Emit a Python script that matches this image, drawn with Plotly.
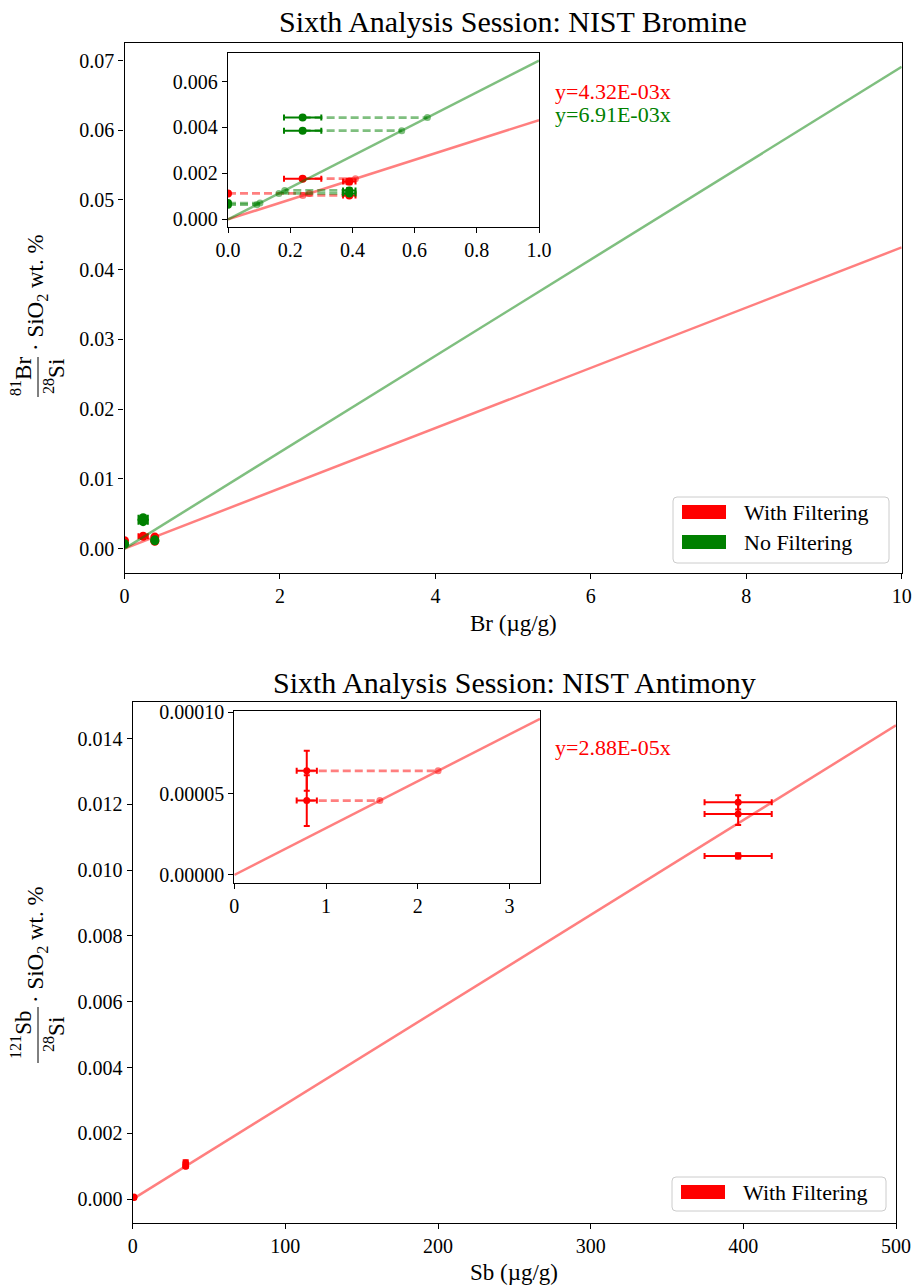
import plotly.graph_objects as go

W, H = 912, 1287
FONT = "Liberation Serif"
RED = "#ff0000"
GREEN = "#008000"
RED_A = "rgba(255,0,0,0.5)"
GREEN_A = "rgba(0,128,0,0.5)"

# ---------------- Bromine data ----------------
br_slope_filt = 4.32e-3
br_slope_nofilt = 6.91e-3
br_filt_x = [0.0, 0.24, 0.39, 0.39]
br_filt_y = [0.00113, 0.00177, 0.00165, 0.00104]
br_filt_xerr = [0.0, 0.06, 0.02, 0.02]
br_filt_yerr = [0.00004, 0.00005, 0.00012, 0.00005]
br_nofilt_x = [0.0, 0.0, 0.24, 0.24, 0.39, 0.39]
br_nofilt_y = [0.00071, 0.00064, 0.00443, 0.00386, 0.00126, 0.00113]
br_nofilt_xerr = [0.0, 0.0, 0.06, 0.06, 0.02, 0.02]
br_nofilt_yerr = [0.00003, 0.00003, 0.00003, 0.00003, 0.0001, 0.00005]
br_main_xrange = [0, 10]
br_inset_xrange = [0, 1]
br_main_yticks = [0.00, 0.01, 0.02, 0.03, 0.04, 0.05, 0.06, 0.07]
br_main_xticks = [0, 2, 4, 6, 8, 10]
br_inset_yticks = [0.000, 0.002, 0.004, 0.006]
br_inset_xticks = [0.0, 0.2, 0.4, 0.6, 0.8, 1.0]

# ---------------- Antimony data ----------------
sb_slope = 2.88e-5
sb_x = [0.79, 0.79, 34.7, 34.7, 396.6, 396.6, 396.6]
sb_y = [6.40e-5, 4.57e-5, 0.00110, 0.00100, 0.01206, 0.01171, 0.01043]
sb_xerr = [0.11, 0.11, 0.5, 0.5, 22.0, 22.0, 22.0]
sb_yerr = [1.23e-5, 1.56e-5, 0.00008, 0.00005, 0.00022, 0.00034, 0.00008]
sb_main_xrange = [0, 500]
sb_inset_xrange = [0, 3.333]
sb_main_yticks = [0.000, 0.002, 0.004, 0.006, 0.008, 0.010, 0.012, 0.014]
sb_main_xticks = [0, 100, 200, 300, 400, 500]
sb_inset_yticks = [0.0, 0.00005, 0.0001]
sb_inset_xticks = [0, 1, 2, 3]


def px(x):
    return x / W


def py(y):
    return 1 - y / H


fig = go.Figure()


def add_series(xs, ys, xerr, yerr, slope, xr, color, color_a, xa, ya, inset, msize):
    # fit line
    fig.add_trace(go.Scatter(x=xr, y=[slope * v for v in xr], mode="lines",
                             line=dict(color=color_a, width=2.5), xaxis=xa, yaxis=ya,
                             showlegend=False, hoverinfo="skip"))
    if inset:
        dx, dy, lx = [], [], []
        for x0, y0 in zip(xs, ys):
            x1 = y0 / slope
            dx += [x0, x1, None]
            dy += [y0, y0, None]
            lx.append(x1)
        fig.add_trace(go.Scatter(x=dx, y=dy, mode="lines",
                                 line=dict(color=color_a, width=2.8, dash="8px,4px"),
                                 xaxis=xa, yaxis=ya, showlegend=False, hoverinfo="skip"))
        fig.add_trace(go.Scatter(x=lx, y=ys, mode="markers",
                                 marker=dict(color=color_a, size=7), xaxis=xa, yaxis=ya,
                                 showlegend=False, hoverinfo="skip"))
    fig.add_trace(go.Scatter(x=xs, y=ys, mode="markers",
                             marker=dict(color=color, size=msize),
                             error_x=dict(type="data", array=xerr, color=color, thickness=2, width=3),
                             error_y=dict(type="data", array=yerr, color=color, thickness=2, width=3),
                             xaxis=xa, yaxis=ya, showlegend=False))


# Bromine main
add_series(br_filt_x, br_filt_y, br_filt_xerr, br_filt_yerr, br_slope_filt, br_main_xrange,
           RED, RED_A, "x", "y", False, 9)
add_series(br_nofilt_x, br_nofilt_y, br_nofilt_xerr, br_nofilt_yerr, br_slope_nofilt, br_main_xrange,
           GREEN, GREEN_A, "x", "y", False, 9)
# Bromine inset
add_series(br_filt_x, br_filt_y, br_filt_xerr, br_filt_yerr, br_slope_filt, br_inset_xrange,
           RED, RED_A, "x2", "y2", True, 8)
add_series(br_nofilt_x, br_nofilt_y, br_nofilt_xerr, br_nofilt_yerr, br_slope_nofilt, br_inset_xrange,
           GREEN, GREEN_A, "x2", "y2", True, 8)
# Antimony main
add_series(sb_x, sb_y, sb_xerr, sb_yerr, sb_slope, sb_main_xrange, RED, RED_A, "x3", "y3", False, 7)
# Antimony inset
add_series(sb_x, sb_y, sb_xerr, sb_yerr, sb_slope, sb_inset_xrange, RED, RED_A, "x4", "y4", True, 7)

TICKF = dict(family=FONT, size=20, color="black")


def ax(domain, rng, tickvals, fmt, anchor):
    return dict(domain=domain, range=rng, tickvals=tickvals,
                ticktext=[format(v, fmt) for v in tickvals],
                showline=True, linecolor="black", linewidth=1.3, mirror=True,
                ticks="outside", ticklen=5, tickwidth=1.3, tickcolor="black",
                showgrid=False, zeroline=False, tickfont=TICKF, anchor=anchor,
                automargin=False)


br_ymax = br_slope_nofilt * br_main_xrange[1]
br_iymax = br_slope_nofilt * br_inset_xrange[1]
sb_ymax = sb_slope * sb_main_xrange[1]
sb_iymax = sb_slope * sb_inset_xrange[1]

fig.update_layout(
    width=W, height=H, margin=dict(l=0, r=0, t=0, b=0, autoexpand=False),
    paper_bgcolor="white", plot_bgcolor="white", showlegend=False,
    font=dict(family=FONT, color="black"),
    xaxis=ax([px(124.5), px(901.7)], br_main_xrange, br_main_xticks, "d", "y"),
    yaxis=ax([py(572.7), py(42.7)], [-0.05 * br_ymax, 1.05 * br_ymax], br_main_yticks, ".2f", "x"),
    xaxis2=ax([px(228), px(539)], br_inset_xrange, br_inset_xticks, ".1f", "y2"),
    yaxis2=ax([py(227.3), py(52.7)], [-0.05 * br_iymax, 1.05 * br_iymax], br_inset_yticks, ".3f", "x2"),
    xaxis3=ax([px(132.7), px(896)], sb_main_xrange, sb_main_xticks, "d", "y3"),
    yaxis3=ax([py(1222.8), py(701.7)], [-0.05 * sb_ymax, 1.05 * sb_ymax], sb_main_yticks, ".3f", "x3"),
    xaxis4=ax([px(234.3), px(540)], sb_inset_xrange, sb_inset_xticks, "d", "y4"),
    yaxis4=ax([py(882.7), py(711)], [-0.05 * sb_iymax, 1.05 * sb_iymax], sb_inset_yticks, ".5f", "x4"),
)

annos = []
shapes = []


def text(x, y, s, size, color="black", xanchor="center", angle=0):
    annos.append(dict(x=px(x), y=py(y), xref="paper", yref="paper", text=s, showarrow=False,
                      xanchor=xanchor, yanchor="middle", textangle=angle,
                      font=dict(family=FONT, size=size, color=color)))


# titles
text(513, 21, "Sixth Analysis Session: NIST Bromine", 30)
text(514, 682, "Sixth Analysis Session: NIST Antimony", 30)
# x labels
text(513, 623, "Br (µg/g)", 23)
text(514, 1272, "Sb (µg/g)", 23)

# y labels (fraction)
def ylabel(iso, el, yc_frac, yc_rest, half):
    text(21, yc_frac, f"<sup>{iso}</sup>{el}", 23, angle=-90)
    text(54, yc_frac, "<sup>28</sup>Si", 23, angle=-90)
    shapes.append(dict(type="line", xref="paper", yref="paper", x0=px(38), x1=px(38),
                       y0=py(yc_frac - half), y1=py(yc_frac + half),
                       line=dict(color="black", width=1)))
    text(37, yc_rest, "· SiO<sub>2</sub> wt. %", 23, angle=-90)


ylabel(81, "Br", 377, 293, 20)
ylabel(121, "Sb", 1035, 945, 28)

# equations
text(553, 91, f"y={br_slope_filt:.2E}x", 22, RED, "left")
text(553, 114, f"y={br_slope_nofilt:.2E}x", 22, GREEN, "left")
text(553, 747, f"y={sb_slope:.2E}x", 22, RED, "left")


def rrect(x0, y0, x1, y1, r=4):
    X0, X1 = px(x0), px(x1)
    return (f"M {px(x0 + r)} {py(y0)} L {px(x1 - r)} {py(y0)} Q {X1} {py(y0)} {X1} {py(y0 + r)} "
            f"L {X1} {py(y1 - r)} Q {X1} {py(y1)} {px(x1 - r)} {py(y1)} "
            f"L {px(x0 + r)} {py(y1)} Q {X0} {py(y1)} {X0} {py(y1 - r)} "
            f"L {X0} {py(y0 + r)} Q {X0} {py(y0)} {px(x0 + r)} {py(y0)} Z")


def legend(x0, y0, x1, y1, items):
    shapes.append(dict(type="path", xref="paper", yref="paper", path=rrect(x0, y0, x1, y1),
                       fillcolor="rgba(255,255,255,0.8)", line=dict(color="#cccccc", width=1)))
    for i, (lab, col) in enumerate(items):
        yc = y0 + 15 + i * 30
        shapes.append(dict(type="rect", xref="paper", yref="paper", x0=px(x0 + 9), x1=px(x0 + 53),
                           y0=py(yc - 7), y1=py(yc + 7), fillcolor=col, line=dict(width=0)))
        text(x0 + 69, yc, lab, 22, "black", "left")


legend(673, 497, 889, 563, [("With Filtering", RED), ("No Filtering", GREEN)])
legend(672, 1177, 886, 1211, [("With Filtering", RED)])

fig.update_layout(annotations=annos, shapes=shapes)
fig.write_html("out.html")
